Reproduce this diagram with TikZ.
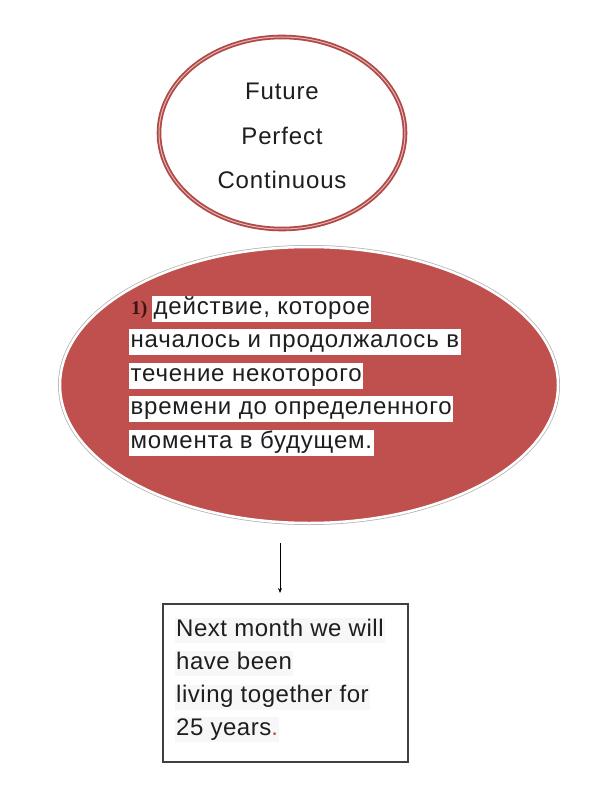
\documentclass[tikz,border=0pt]{standalone}
\usepackage{fontspec}
\setmainfont{Liberation Sans}
\newfontfamily\serifnum{Liberation Serif}
\newfontfamily\wideA[LetterSpace=3.3]{Liberation Sans}
\newfontfamily\wideB[LetterSpace=2.2]{Liberation Sans}
\newfontfamily\wideC[LetterSpace=3.5]{Liberation Sans}
\usetikzlibrary{shapes.geometric,arrows.meta}
\definecolor{redfill}{RGB}{192,80,77}
\definecolor{redline}{RGB}{178,72,70}
\definecolor{txt}{RGB}{30,30,30}
\tikzset{
  hl/.style={anchor=base west, fill=white, inner sep=1.5pt, text height=17pt, text depth=6pt, text=txt, font=\wideA\fontsize{24}{28}\selectfont},
  bx/.style={anchor=base west, fill=gray!6, inner sep=1pt, text height=17pt, text depth=6pt, text=txt, font=\wideB\fontsize{24}{28}\selectfont},
  tt/.style={anchor=base, text=txt, font=\wideC\fontsize{24}{28}\selectfont, inner sep=0pt},
}
\begin{document}
\begin{tikzpicture}[x=1pt,y=-1pt]
\useasboundingbox (0,0) rectangle (600,794);
% top ellipse
\node[ellipse, draw=redline, line width=1.8pt, double=redline!40, double distance=1pt,
      minimum width=246pt, minimum height=192pt, fill=white] (top) at (282,133) {};
\node[tt] (t1) at (282,100) {Future};
\node[tt] (t2) at (282,145) {Perfect};
\node[tt] (t3) at (282,189) {Continuous};
% red ellipse
\node[ellipse, minimum width=498pt, minimum height=276pt, fill=redfill,
      draw=white, line width=2.5pt,
      preaction={draw=gray!60, line width=4pt}] (red) at (309,385) {};
\node[anchor=base west, inner sep=0pt, text={rgb,255:red,60;green,20;blue,20},
      font=\serifnum\bfseries\fontsize{19.5}{20}\selectfont] (num) at (131,314) {1)};
\node[hl] (l1) at (152,314) {действие, которое};
\node[hl] (l2) at (129,347.5) {началось и продолжалось в};
\node[hl] (l3) at (129,381) {течение некоторого};
\node[hl] (l4) at (129,414.5) {времени до определенного};
\node[hl] (l5) at (129,448) {момента в будущем.};
% arrow
\coordinate (as) at (280,543);
\coordinate (ae) at (280,593);
\draw[line width=0.8pt, -{Stealth[length=5pt,width=4pt]}] (as) -- (ae);
% box
\node[draw=black!75, line width=1.2pt, minimum width=245pt, minimum height=158pt,
      inner sep=0pt] (box) at (285.5,683) {};
\node[bx] (b1) at (175,636) {Next month we will};
\node[bx] (b2) at (175,669) {have been};
\node[bx] (b3) at (175,702.5) {living together for};
\node[bx] (b4) at (175,735) {25 years\textcolor{redfill}{.}};
\end{tikzpicture}
\end{document}
